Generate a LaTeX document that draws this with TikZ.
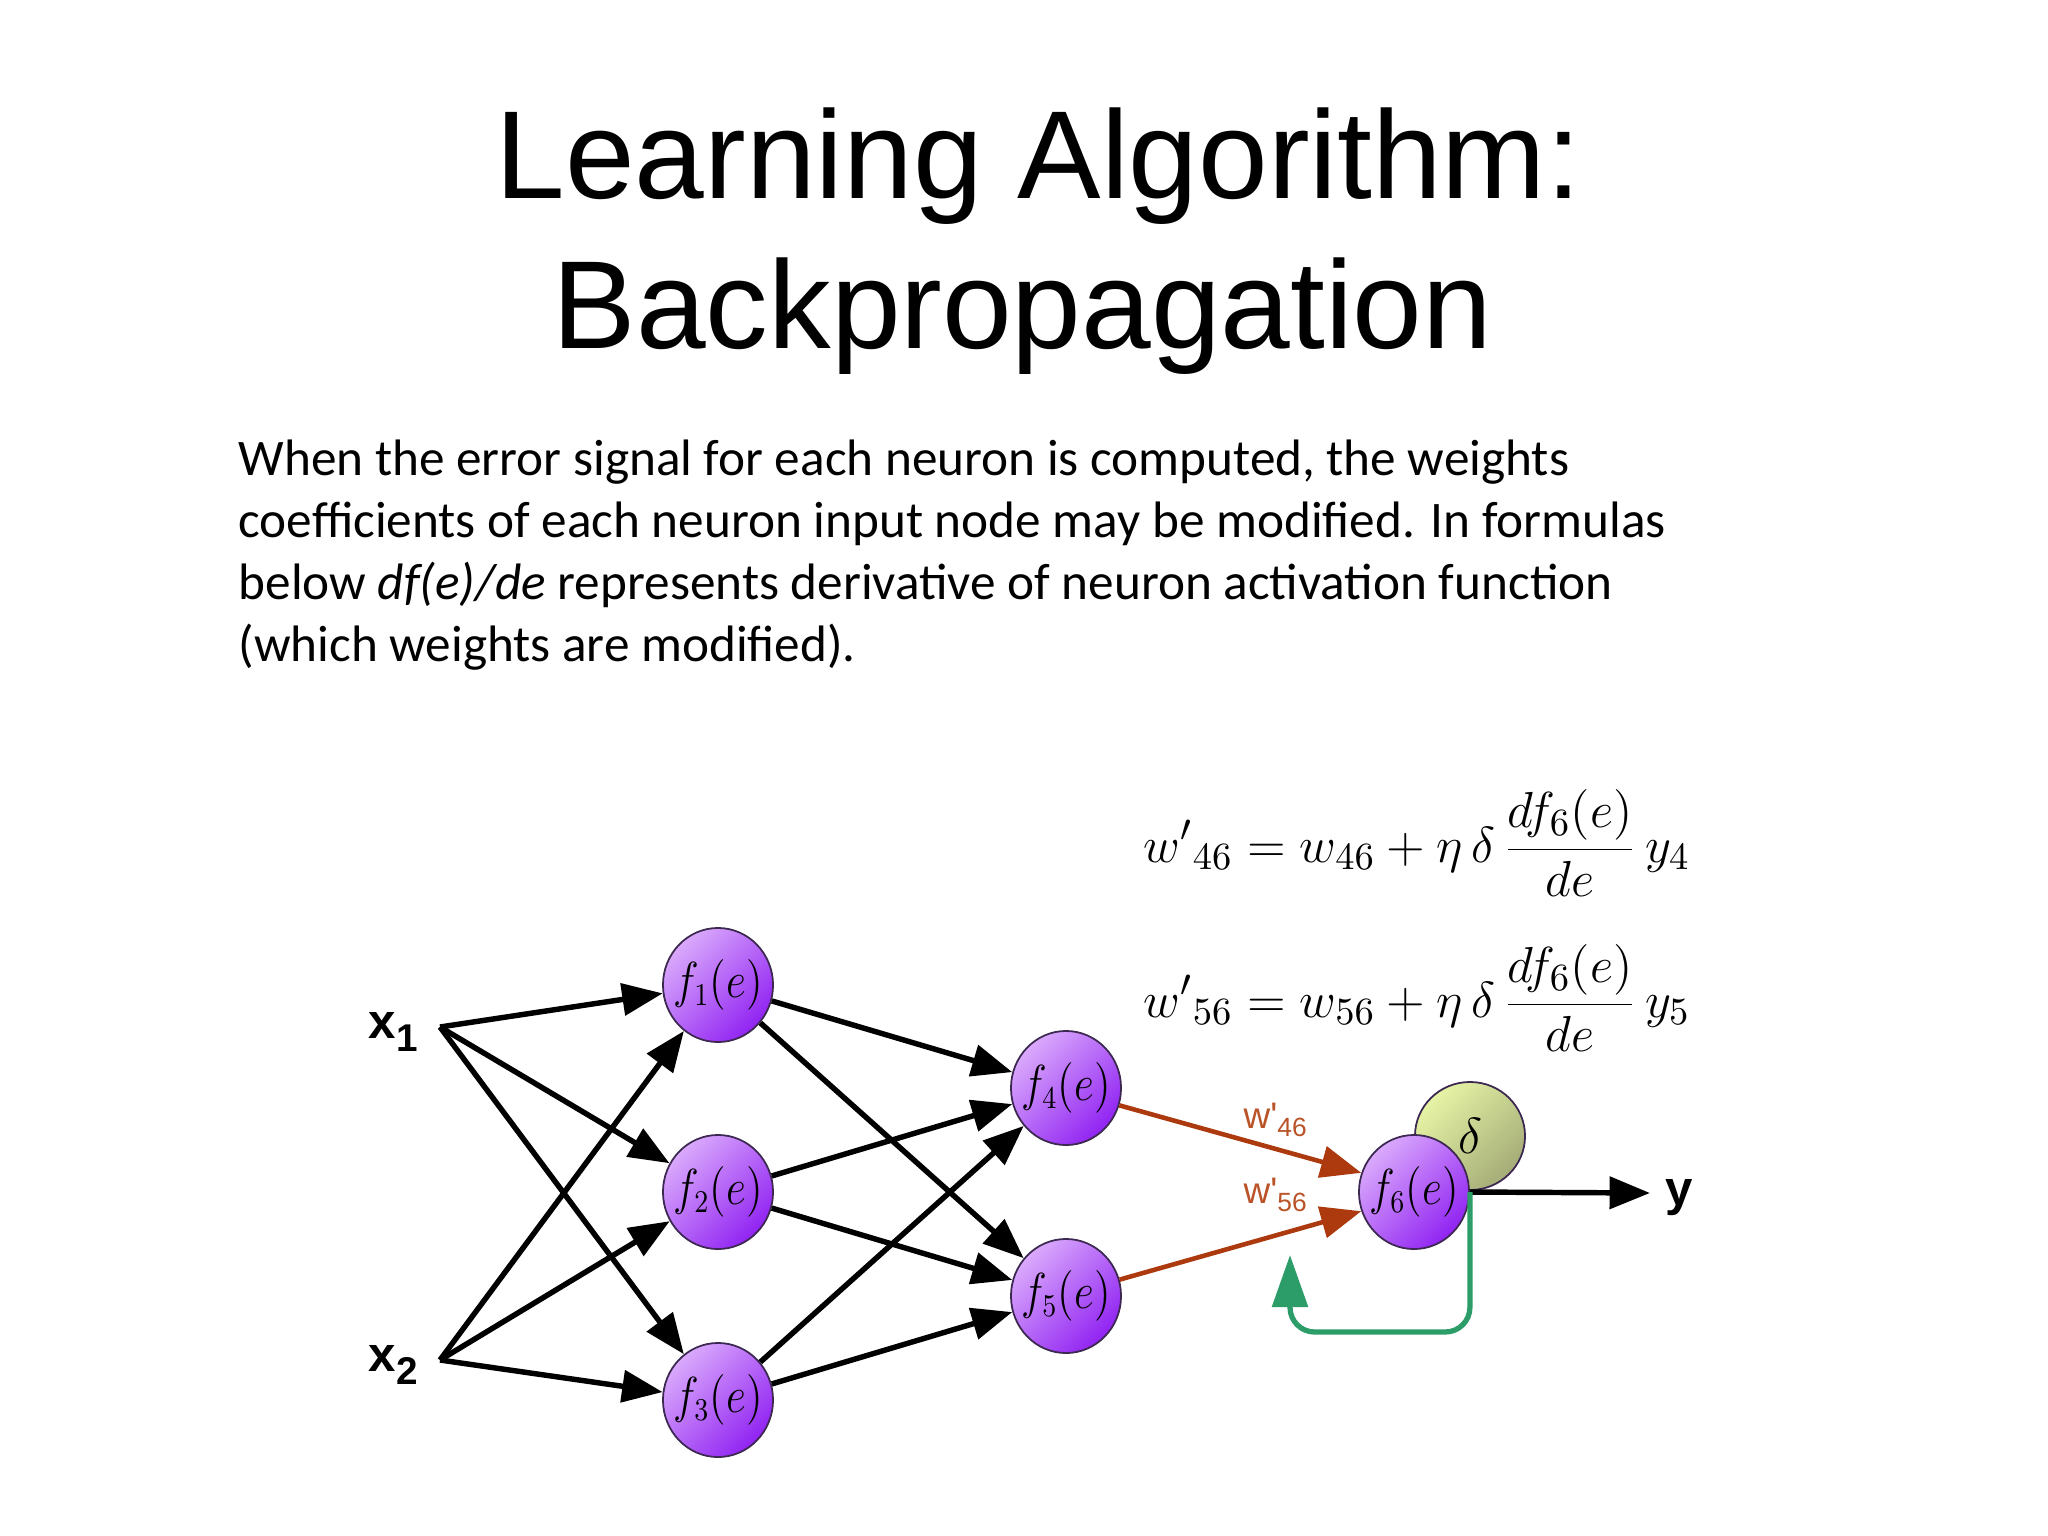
\documentclass[tikz,border=0pt]{standalone}
\usepackage{fontspec}
\usepackage{graphicx}
\setmainfont{Liberation Sans}
\newfontfamily\titlefont{Liberation Sans}
\newfontfamily\bodyfont{Carlito}
\usetikzlibrary{arrows.meta,shapes.geometric}
\definecolor{nbord}{RGB}{60,40,80}
\definecolor{nlight}{RGB}{218,170,252}
\definecolor{ndark}{RGB}{145,35,242}
\definecolor{dlight}{RGB}{230,244,165}
\definecolor{ddark}{RGB}{165,172,120}
\definecolor{brw}{RGB}{172,58,14}
\definecolor{brwlab}{RGB}{186,84,40}
\definecolor{grn}{RGB}{44,156,104}
\tikzset{
  neuron/.style={ellipse, minimum width=1.1cm, minimum height=1.14cm, inner sep=0pt,
    draw=nbord, line width=0.5pt, top color=nlight, bottom color=ndark, shading angle=45,
    font=\fontsize{13.5}{14}\selectfont},
  deltanode/.style={ellipse, minimum width=1.1cm, minimum height=1.08cm, inner sep=0pt,
    draw=nbord, line width=0.5pt, top color=dlight, bottom color=ddark, shading angle=45,
    font=\fontsize{15}{16}\selectfont},
  conn/.style={line width=1.55pt, -{Triangle[length=11.5pt,width=9pt]}},
  brconn/.style={draw=brw, line width=1.3pt, -{Triangle[length=11.5pt,width=9pt,fill=brw]}},
  grconn/.style={draw=grn, line width=1.5pt, rounded corners=7pt, -{Triangle[length=14.8pt,width=10pt,fill=grn]}},
  titletext/.style={anchor=base west, inner sep=0pt, font=\titlefont\fontsize{35.6}{40}\selectfont},
  bodytext/.style={anchor=base west, inner sep=0pt, font=\bodyfont\fontsize{14.57}{17}\selectfont},
  inlabel/.style={anchor=base west, inner sep=0pt, font=\titlefont\bfseries\fontsize{14}{16}\selectfont},
  wlabel/.style={anchor=base west, inner sep=0pt, text=brwlab, font=\titlefont\fontsize{10.5}{12}\selectfont},
  formula/.style={anchor=base west, inner sep=0pt, font=\fontsize{15}{18}\selectfont}
}
\newcommand{\wsub}[1]{\raisebox{-0.45ex}{\fontsize{7.5}{8}\selectfont #1}}
\newcommand{\insub}[1]{\raisebox{-0.5ex}{\fontsize{11}{12}\selectfont #1}}
\newcommand{\ntext}[1]{\makebox[0pt]{\scalebox{0.86}[1]{$#1$}}}
\begin{document}
\begin{tikzpicture}[x=0.01cm,y=-0.01cm]
\useasboundingbox[fill=white] (0,0) rectangle (2048,1536);

% title
\node[titletext] (t1) at (495,198) {Learning Algorithm:};
\node[titletext] (t2) at (552,348) {Backpropagation};

% body
\node[bodytext] (b1) at (238,475) {When the error signal for each neuron is computed, the weights};
\node[bodytext] (b2) at (238,537) {coefficients of each neuron input node may be modified. In formulas};
\node[bodytext] (b3) at (238,599) {below \textit{df(e)/de} represents derivative of neuron activation function};
\node[bodytext] (b4) at (238,661) {(which weights are modified).};

% formulas
\node[formula] (eq1) at (1143,862) {$\displaystyle {w'}_{46} = w_{46} + \eta\,\delta\,\frac{df_6(e)}{de}\,y_4$};
\node[formula] (eq2) at (1143,1017) {$\displaystyle {w'}_{56} = w_{56} + \eta\,\delta\,\frac{df_6(e)}{de}\,y_5$};

% inputs
\coordinate (x1o) at (440,1027);
\coordinate (x2o) at (440,1360);
\node[inlabel] (x1) at (368,1038) {x\insub{1}};
\node[inlabel] (x2) at (368,1371) {x\insub{2}};

% neurons
\node[neuron] (f1) at (718,985) {\ntext{f_1(e)}};
\node[neuron] (f2) at (718,1192) {\ntext{f_2(e)}};
\node[neuron] (f3) at (718,1400) {\ntext{f_3(e)}};
\node[neuron] (f4) at (1066,1088) {\ntext{f_4(e)}};
\node[neuron] (f5) at (1066,1296) {\ntext{f_5(e)}};
\node[deltanode] (d) at (1470,1136) {$\delta$};
\node[neuron] (f6) at (1414,1192) {\ntext{f_6(e)}};

% connections
\foreach \s in {x1o,x2o}{
  \foreach \t in {f1,f2,f3}{
    \draw[conn] (\s) -- (\t);
  }
}
\foreach \s in {f1,f2,f3}{
  \foreach \t in {f4,f5}{
    \draw[conn] (\s) -- (\t);
  }
}
\draw[brconn] (f4.-18) -- (f6.160);
\draw[brconn] (f5.17) -- (f6.200);
\node[wlabel] (w46) at (1243,1128) {w\textquotesingle\wsub{46}};
\node[wlabel] (w56) at (1243,1203) {w\textquotesingle\wsub{56}};

% output
\coordinate (yend) at (1650,1193);
\draw[conn] (f6.east) -- (yend);
\node[inlabel] (y) at (1665,1205) {y};

% feedback loop
\coordinate (gc) at (1290,1332);
\coordinate (gtip) at (1290,1255);
\draw[grconn] (f6.east) |- (gc) -- (gtip);
\end{tikzpicture}
\end{document}
